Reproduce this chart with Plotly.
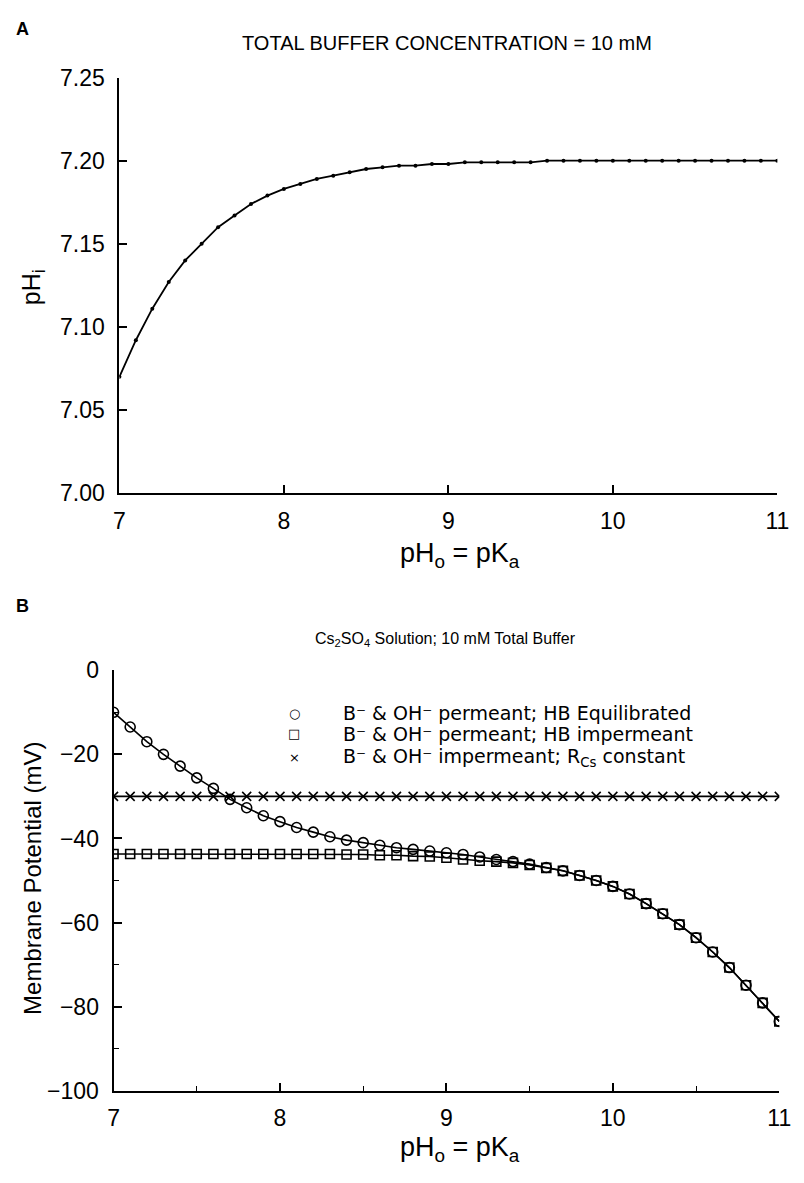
import plotly.graph_objects as go

# ---------------- data ----------------
ph_o = [round(7 + 0.1 * i, 1) for i in range(41)]

# Panel A: intracellular pH
ph_i = [7.070, 7.092, 7.111, 7.127, 7.140, 7.150, 7.160, 7.167, 7.174, 7.179,
        7.183, 7.186, 7.189, 7.191, 7.193, 7.195, 7.196, 7.197, 7.197, 7.198,
        7.198, 7.199, 7.199, 7.199, 7.199, 7.199, 7.200, 7.200, 7.200, 7.200,
        7.200, 7.200, 7.200, 7.200, 7.200, 7.200, 7.200, 7.200, 7.200, 7.200,
        7.200]

# Panel B: membrane potential (mV)
hb_equil = [-10.0, -13.5, -17.0, -20.0, -22.8, -25.6, -28.1, -30.7, -32.7, -34.6,
            -36.0, -37.4, -38.5, -39.6, -40.4, -41.0, -41.6, -42.2, -42.6, -43.0,
            -43.4, -43.8, -44.4, -45.0, -45.5, -46.1, -46.9, -47.7, -48.8, -50.0,
            -51.4, -53.2, -55.5, -57.9, -60.5, -63.6, -67.0, -70.7, -74.9, -79.1,
            -83.5]
hb_imperm = [-43.7, -43.7, -43.7, -43.7, -43.7, -43.7, -43.7, -43.7, -43.7, -43.7,
             -43.7, -43.7, -43.7, -43.7, -43.8, -43.8, -44.0, -44.0, -44.2, -44.3,
             -44.6, -45.0, -45.3, -45.5, -45.8, -46.3, -47.0, -47.7, -48.8, -50.0,
             -51.4, -53.2, -55.5, -57.9, -60.5, -63.6, -67.0, -70.7, -74.9, -79.1,
             -83.5]
rcs_const = [-30.0] * 41

legend_names = ["B⁻ & OH⁻ permeant; HB Equilibrated",
                "B⁻ & OH⁻ permeant; HB impermeant",
                "B⁻ & OH⁻ impermeant; R<sub>Cs</sub> constant"]
legend_glyphs = ["○", "□", "×"]

xticks = [7, 8, 9, 10, 11]
yticks_a = [7.00, 7.05, 7.10, 7.15, 7.20, 7.25]
yticks_b = [-100, -80, -60, -40, -20, 0]

# ---------------- figure ----------------
W, H = 804, 1183
def fx(px): return px / W
def fy(py): return 1 - py / H

FONT = "Liberation Sans, Arial, sans-serif"

fig = go.Figure()

# Panel A
fig.add_trace(go.Scatter(x=ph_o, y=ph_i, mode="lines+markers",
                         line=dict(color="black", width=1.8),
                         marker=dict(color="black", size=4),
                         showlegend=False, xaxis="x", yaxis="y"))

# Panel B
symbols = ["circle-open", "square-open", "x-thin-open"]
sizes = [10, 9, 9]
for ys, name, sym, sz in zip((hb_equil, hb_imperm, rcs_const), legend_names, symbols, sizes):
    fig.add_trace(go.Scatter(x=ph_o, y=ys, mode="lines+markers", name=name,
                             line=dict(color="black", width=1.6),
                             marker=dict(symbol=sym, size=sz, color="black",
                                         line=dict(color="black", width=1.6)),
                             showlegend=False, xaxis="x2", yaxis="y2"))

tickfont = dict(family=FONT, size=23, color="black")
axis_common = dict(showline=True, linecolor="black", linewidth=2, mirror=False,
                   ticks="inside", ticklen=8, tickwidth=1.6, tickcolor="black",
                   showgrid=False, zeroline=False, tickfont=tickfont)

fig.update_layout(
    width=W, height=H, margin=dict(l=0, r=0, t=0, b=0),
    paper_bgcolor="white", plot_bgcolor="white", showlegend=False,
    xaxis=dict(domain=[fx(116), fx(789)], anchor="y", range=[7, 11],
               tickvals=xticks, ticklabelstandoff=6, **axis_common),
    yaxis=dict(domain=[fy(491), fy(66)], anchor="x", range=[7.0, 7.25],
               tickvals=yticks_a, tickformat=".2f", ticklabelstandoff=8, **axis_common),
    xaxis2=dict(domain=[fx(110), fx(791)], anchor="y2", range=[7, 11],
                tickvals=xticks, ticklabelstandoff=6,
                minor=dict(dtick=0.5, tick0=7, ticks="inside", ticklen=5, tickcolor="black", tickwidth=1.4),
                **axis_common),
    yaxis2=dict(domain=[fy(1102), fy(672)], anchor="x2", range=[-100, 0],
                tickvals=yticks_b, ticklabelstandoff=8,
                minor=dict(dtick=10, tick0=0, ticks="inside", ticklen=5, tickcolor="black", tickwidth=1.4),
                **axis_common),
)

anns = [
    dict(text="<b>A</b>", x=fx(17), y=fy(16), xanchor="center", yanchor="middle", font=dict(size=18)),
    dict(text="<b>B</b>", x=fx(17), y=fy(606), xanchor="center", yanchor="middle", font=dict(size=18)),
    dict(text="TOTAL BUFFER CONCENTRATION = 10 mM", x=fx(451), y=fy(31), xanchor="center", yanchor="middle",
         font=dict(size=20)),
    dict(text="Cs<sub>2</sub>SO<sub>4</sub> Solution; 10 mM Total Buffer", x=fx(450), y=fy(641),
         xanchor="center", yanchor="middle", font=dict(size=16)),
    dict(text="pH<sub>o</sub> = pK<sub>a</sub>", x=fx(464), y=fy(554), xanchor="center", yanchor="middle",
         font=dict(size=27)),
    dict(text="pH<sub>o</sub> = pK<sub>a</sub>", x=fx(464), y=fy(1162), xanchor="center", yanchor="middle",
         font=dict(size=27)),
    dict(text="pH<sub>i</sub>", x=fx(27), y=fy(280), xanchor="center", yanchor="middle", textangle=-90,
         font=dict(size=25)),
    dict(text="Membrane Potential (mV)", x=fx(27), y=fy(885), xanchor="center", yanchor="middle", textangle=-90,
         font=dict(size=24)),
]
legend_rows = [716, 737, 761]
for glyph, name, row in zip(legend_glyphs, legend_names, legend_rows):
    anns.append(dict(text=glyph, x=fx(295), y=fy(row), xanchor="center", yanchor="middle",
                     font=dict(family="DejaVu Sans", size=13)))
    anns.append(dict(text=name, x=fx(343), y=fy(row), xanchor="left", yanchor="middle",
                     font=dict(family="DejaVu Sans, sans-serif", size=19)))
for a in anns:
    a.update(xref="paper", yref="paper", showarrow=False)
    a["font"].setdefault("family", FONT)
    a["font"].setdefault("color", "black")
fig.update_layout(annotations=anns)

fig.write_html("out.html")
